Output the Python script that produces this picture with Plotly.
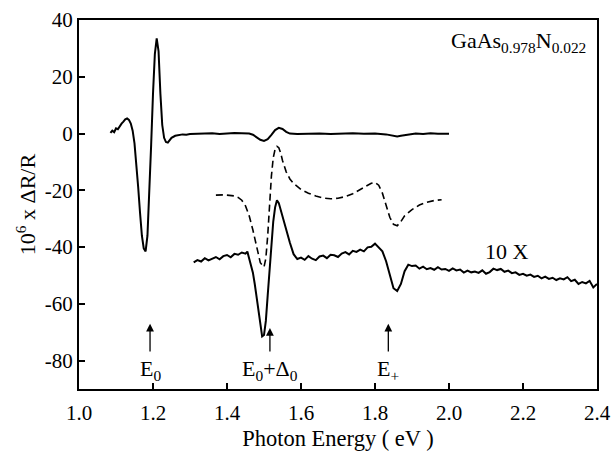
import plotly.graph_objects as go

# Top trace (1x)
top_x = [1.085, 1.09, 1.095, 1.10, 1.105, 1.11, 1.115, 1.12, 1.125, 1.13, 1.135, 1.14, 1.145,
         1.15, 1.155, 1.16, 1.165, 1.17, 1.175, 1.18, 1.185, 1.19, 1.195, 1.20, 1.205, 1.21,
         1.215, 1.22, 1.225, 1.23, 1.235, 1.24, 1.245, 1.25, 1.26, 1.27, 1.28, 1.29, 1.30,
         1.32, 1.34, 1.36, 1.38, 1.40, 1.42, 1.44, 1.46, 1.47, 1.48, 1.49, 1.50, 1.51, 1.52,
         1.53, 1.54, 1.55, 1.56, 1.57, 1.59, 1.62, 1.65, 1.68, 1.71, 1.74, 1.77, 1.80, 1.83,
         1.85, 1.86, 1.87, 1.89, 1.91, 1.93, 1.95, 1.97, 1.99, 2.00]
top_y = [0.2, 1.0, 0.5, 1.8, 1.5, 2.6, 3.5, 4.2, 5.0, 5.3, 4.8, 3.5, 1.0,
         -3.5, -10, -19, -28, -36, -40.5, -41.5, -36, -22, -4, 14, 28, 33.5,
         29, 14, 3, -1.5, -3, -3.2, -2.5, -1.5, -0.8, -0.5, -0.3, -0.4, -0.2,
         -0.1, 0.0, 0.1, -0.2, 0.0, 0.2, 0.1, 0.0, -0.4, -1.2, -2.2, -2.6, -2.0, -0.5,
         1.2, 2.0, 1.6, 0.6, 0.0, -0.2, -0.1, 0.0, -0.2, 0.0, 0.1, -0.1, 0.0, -0.3,
         -0.9, -1.0, -0.8, -0.3, 0.0, -0.2, 0.1, -0.1, 0.0, -0.1]

# Dashed (fit) trace
fit_x = [1.37, 1.38, 1.39, 1.40, 1.41, 1.42, 1.43, 1.44, 1.45, 1.46, 1.47, 1.48, 1.49, 1.50,
         1.505, 1.51, 1.515, 1.52, 1.525, 1.53, 1.535, 1.54, 1.545, 1.55, 1.56, 1.57, 1.58,
         1.59, 1.60, 1.62, 1.64, 1.66, 1.68, 1.70, 1.72, 1.74, 1.76, 1.78, 1.79, 1.80, 1.81,
         1.82, 1.83, 1.84, 1.85, 1.86, 1.87, 1.88, 1.90, 1.92, 1.94, 1.96, 1.98]
fit_y = [-21.7, -21.6, -21.6, -21.7, -21.8, -22.0, -22.5, -23.5, -25.5, -29, -34, -40, -45.5, -47,
         -44, -36, -25, -15, -8.5, -5.5, -4.5, -5, -6.8, -9.5, -13.5, -16, -17.6,
         -18.8, -19.7, -21, -22, -22.7, -23, -22.8, -22.2, -21.2, -19.8, -18.3, -17.5, -17.2, -18.2,
         -21, -25.5, -29.5, -32, -32.5, -31, -29, -26.8, -25.2, -24.2, -23.6, -23.3]

# 10X magnified trace
mag_x = [1.31, 1.32, 1.33, 1.34, 1.35, 1.36, 1.37, 1.38, 1.39, 1.40, 1.41, 1.42, 1.43, 1.44,
         1.45, 1.455, 1.46, 1.465, 1.47, 1.475, 1.48, 1.485, 1.49, 1.495, 1.50, 1.505, 1.51,
         1.515, 1.52, 1.525, 1.53, 1.535, 1.54, 1.545, 1.55, 1.555, 1.56, 1.57, 1.58, 1.59,
         1.60, 1.61, 1.62, 1.63, 1.64, 1.65, 1.66, 1.67, 1.68, 1.69, 1.70, 1.71, 1.72, 1.73,
         1.74, 1.75, 1.76, 1.77, 1.78, 1.79, 1.80, 1.81, 1.82, 1.83, 1.84, 1.85, 1.86, 1.87,
         1.88, 1.89, 1.90, 1.91, 1.92, 1.93, 1.94, 1.95, 1.96, 1.97, 1.98, 1.99, 2.00, 2.01,
         2.02, 2.03, 2.04, 2.05, 2.06, 2.07, 2.08, 2.09, 2.10, 2.11, 2.12, 2.13, 2.14, 2.15,
         2.16, 2.17, 2.18, 2.19, 2.20, 2.21, 2.22, 2.23, 2.24, 2.25, 2.26, 2.27, 2.28, 2.29,
         2.30, 2.31, 2.32, 2.33, 2.34, 2.35, 2.36, 2.37, 2.38, 2.39, 2.40]
mag_y = [-45.4, -44.6, -45.1, -43.9, -44.7, -44.2, -43.5, -44.3, -43.2, -42.8, -43.6, -42.4, -42.7, -41.9,
         -42.3, -41.6, -44, -47, -49, -53, -58, -63, -68, -71.5, -71, -66, -57,
         -47, -38, -31, -26, -23.5, -24.5, -27, -28.5, -32, -34.5, -38.5, -42.5, -44.2,
         -43.7, -44.5, -43.2, -44.1, -44.6, -43.3, -43.0, -43.9, -42.7, -42.9, -43.5, -42.3, -41.8, -42.6,
         -41.3, -41.7, -40.9, -41.5, -40.1, -39.9, -38.8, -40.2, -41.5, -45, -50, -54.5, -55.5, -53,
         -48.5, -46.2, -46.7, -46.5, -47.6, -46.9, -47.8, -47.4, -48.0, -47.1, -47.9, -47.7, -48.4, -47.5,
         -48.2, -47.9, -49.0, -48.3, -48.9, -48.6, -49.1, -48.2, -49.4, -48.8, -47.6, -48.1, -47.7, -48.7,
         -48.3, -49.2, -48.9, -49.8, -49.4, -50.1, -49.7, -50.5, -50.1, -51.0, -50.4, -51.2, -50.8, -51.6,
         -51.0, -51.4, -50.6, -52.0, -51.5, -53.0, -52.3, -52.8, -51.9, -54.2, -53.0]

# Transition markers
trans_labels = ["E<sub>0</sub>", "E<sub>0</sub>+Δ<sub>0</sub>", "E<sub>+</sub>"]
trans_x = [1.192, 1.516, 1.836]
trans_tip = [-67, -68.5, -67]
label_y = [-83.3, -83.3, -83.3]

x_ticks = [1.0, 1.2, 1.4, 1.6, 1.8, 2.0, 2.2, 2.4]
y_ticks = [40, 20, 0, -20, -40, -60, -80]

FONT = "Liberation Serif"
FS = 22
TFS = 21

fig = go.Figure()
fig.add_trace(go.Scatter(x=top_x, y=top_y, mode="lines",
                         line=dict(color="black", width=2), showlegend=False))
fig.add_trace(go.Scatter(x=fit_x, y=fit_y, mode="lines",
                         line=dict(color="black", width=1.6, dash="7px,4px"), showlegend=False))
fig.add_trace(go.Scatter(x=mag_x, y=mag_y, mode="lines",
                         line=dict(color="black", width=2), showlegend=False))

for lab, xx, tip, ly in zip(trans_labels, trans_x, trans_tip, label_y):
    fig.add_annotation(x=xx, y=tip, ax=xx, ay=ly, axref="x", ayref="y", xref="x", yref="y",
                       text=lab, showarrow=True, arrowhead=2, arrowsize=1.2, arrowwidth=1.3,
                       arrowcolor="black", startstandoff=3,
                       font=dict(family=FONT, size=FS, color="black"))

fig.add_annotation(x=2.376, y=32.4, xref="x", yref="y", text="GaAs<sub>0.978</sub>N<sub>0.022</sub>",
                   showarrow=False, xanchor="right", yanchor="middle",
                   font=dict(family=FONT, size=FS, color="black"))
fig.add_annotation(x=2.157, y=-41.5, xref="x", yref="y", text="10 X",
                   showarrow=False, xanchor="center", yanchor="middle",
                   font=dict(family=FONT, size=FS, color="black"))

fig.update_layout(
    width=611, height=453,
    margin=dict(l=79, r=14, t=20, b=64),
    paper_bgcolor="white", plot_bgcolor="white",
    font=dict(family=FONT, size=FS, color="black"),
)
fig.update_xaxes(range=[1.0, 2.4], tickvals=x_ticks, ticktext=[f"{v:.1f}" for v in x_ticks],
                 ticks="inside", ticklen=6, tickwidth=1.5, tickcolor="black",
                 showline=True, linewidth=2, linecolor="black", mirror=True,
                 showgrid=False, zeroline=False, ticklabelstandoff=4, automargin=False,
                 title=dict(text="Photon Energy ( eV )", font=dict(family=FONT, size=22.5), standoff=6),
                 tickfont=dict(family=FONT, size=TFS))
fig.update_yaxes(range=[-90, 40], tickvals=y_ticks, ticktext=[str(v) for v in y_ticks],
                 ticks="inside", ticklen=6, tickwidth=1.5, tickcolor="black",
                 showline=True, linewidth=2, linecolor="black", mirror=True,
                 showgrid=False, zeroline=False, automargin=False,
                 title=dict(text="10<sup>6</sup> x ΔR/R", font=dict(family=FONT, size=FS), standoff=3),
                 tickfont=dict(family=FONT, size=TFS))

fig.write_html("out.html")
